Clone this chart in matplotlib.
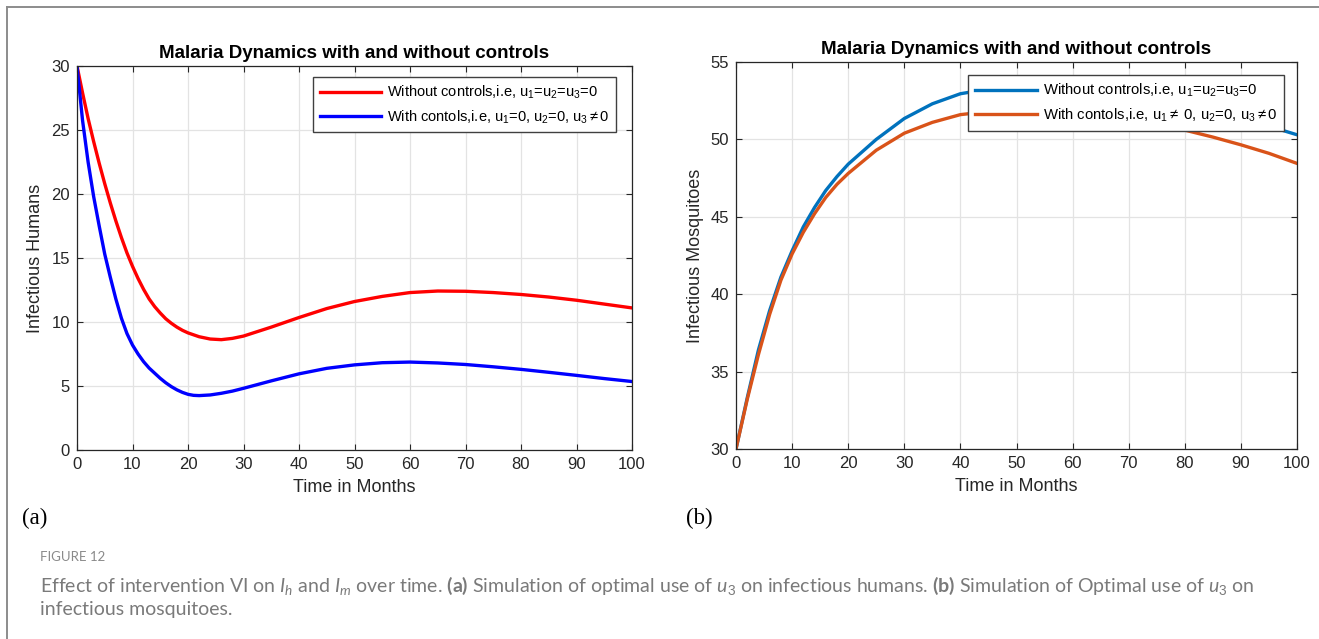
import matplotlib
matplotlib.use('Agg')
import matplotlib.pyplot as plt
from matplotlib.lines import Line2D
import numpy as np

# ---------------- dados ----------------
# (a) humanos infecciosos
t_a = [0, 1, 2, 3, 4, 5, 6, 7, 8, 9, 10, 11, 12, 13, 14, 15, 16, 17, 18, 19, 20,
       21, 22, 24, 26, 28, 30, 35, 40, 45, 50, 55, 60, 65, 70, 75, 80, 85, 90, 95, 100]
ih_sem = [30, 27.9, 25.9, 24.1, 22.4, 20.8, 19.3, 17.9, 16.6, 15.4, 14.35, 13.4, 12.55,
          11.8, 11.2, 10.7, 10.25, 9.9, 9.6, 9.35, 9.15, 9.0, 8.85, 8.67, 8.62, 8.72, 8.9,
          9.6, 10.35, 11.05, 11.6, 12.0, 12.3, 12.42, 12.4, 12.3, 12.15, 11.95, 11.7, 11.4, 11.1]
ih_com = [30, 25.75, 22.5, 19.8, 17.5, 15.3, 13.5, 11.8, 10.3, 9.1, 8.2, 7.5, 6.9, 6.4,
          6.0, 5.6, 5.25, 4.95, 4.7, 4.5, 4.35, 4.27, 4.25, 4.3, 4.43, 4.6, 4.82, 5.4, 5.95,
          6.38, 6.65, 6.82, 6.87, 6.8, 6.68, 6.5, 6.3, 6.07, 5.83, 5.58, 5.35]

# (b) mosquitos infecciosos
t_b = [0, 2, 4, 6, 8, 10, 12, 14, 16, 18, 20, 25, 30, 35, 40, 45, 50, 55, 60, 65, 70,
       75, 80, 85, 90, 95, 100]
im_sem = [30, 33.3, 36.4, 38.95, 41.1, 42.8, 44.35, 45.6, 46.7, 47.6, 48.4, 50.0, 51.35,
          52.3, 52.95, 53.25, 53.35, 53.35, 53.25, 53.1, 52.85, 52.55, 52.2, 51.8, 51.35,
          50.85, 50.3]
im_com = [30, 33.2, 36.1, 38.7, 40.9, 42.6, 44.0, 45.2, 46.25, 47.1, 47.8, 49.3, 50.4,
          51.1, 51.6, 51.8, 51.85, 51.75, 51.55, 51.3, 51.05, 50.8, 50.6, 50.15, 49.65,
          49.1, 48.45]

titulo = 'Malaria Dynamics with and without controls'
eixox = 'Time in Months'
leg_a = ['Without controls,i.e, u$_1$=u$_2$=u$_3$=0',
         r'With contols,i.e, u$_1$=0, u$_2$=0, u$_3$$\neq$0']
leg_b = ['Without controls,i.e, u$_1$=u$_2$=u$_3$=0',
         r'With contols,i.e, u$_1$$\neq$ 0, u$_2$=0, u$_3$$\neq$0']

# ---------------- formatacao geral ----------------
plt.rcParams['font.family'] = ['Liberation Sans', 'DejaVu Sans']
plt.rcParams['mathtext.fontset'] = 'custom'
plt.rcParams['mathtext.rm'] = 'Liberation Sans'
plt.rcParams['mathtext.it'] = 'Lato:italic'
plt.rcParams['mathtext.bf'] = 'Lato:bold'
plt.rcParams['axes.axisbelow'] = True

fig = plt.figure(figsize=(13.19, 6.39), dpi=100)
W, H = 1319.0, 639.0

def eixo(px0, py0, px1, py1):
    return fig.add_axes([px0 / W, 1 - py1 / H, (px1 - px0) / W, (py1 - py0) / H])

def formatar(ax, ymin, ymax, ystep, eixoy):
    ax.set_xlim(0, 100)
    ax.set_ylim(ymin, ymax)
    ax.set_xticks(np.arange(0, 101, 10))
    ax.set_yticks(np.arange(ymin, ymax + 0.01, ystep))
    ax.grid(True, color='#e3e3e3', lw=0.9)
    ax.tick_params(direction='in', top=True, right=True, length=4.5, width=0.8,
                   labelsize=12, colors='#262626', pad=5)
    for s in ax.spines.values():
        s.set_color('#262626')
        s.set_linewidth(0.9)
    ax.set_title(titulo, fontsize=13.5, fontweight='bold', pad=6)
    ax.set_xlabel(eixox, fontsize=13, color='#262626', labelpad=5)
    ax.set_ylabel(eixoy, fontsize=13, color='#262626', labelpad=5)

# ---------------- grafico (a) ----------------
ax1 = eixo(77, 66, 632, 450)
ax1.plot(t_a, ih_sem, color='#ff0000', lw=2.4, label=leg_a[0])
ax1.plot(t_a, ih_com, color='#0000ff', lw=2.4, label=leg_a[1])
formatar(ax1, 0, 30, 5, 'Infectious Humans')
ax1.legend(loc='upper right', bbox_to_anchor=(0.971, 0.971), borderaxespad=0,
           fontsize=10.5, fancybox=False, edgecolor='#404040', framealpha=1,
           handlelength=4.2, handletextpad=0.4, labelspacing=0.5,
           borderpad=0.45)

# ---------------- grafico (b) ----------------
ax2 = eixo(736, 62, 1297, 449)
ax2.plot(t_b, im_sem, color='#0072bd', lw=2.4, label=leg_b[0])
ax2.plot(t_b, im_com, color='#d95319', lw=2.4, label=leg_b[1])
formatar(ax2, 30, 55, 5, 'Infectious Mosquitoes')
ax2.legend(loc='upper right', bbox_to_anchor=(0.977, 0.966), borderaxespad=0,
           fontsize=10.7, fancybox=False, edgecolor='#404040', framealpha=1,
           handlelength=4.2, handletextpad=0.4, labelspacing=0.5,
           borderpad=0.45)

# ---------------- rotulos (a) e (b) ----------------
fig.text(22 / W, 1 - 518 / H, '(a)', family='Liberation Serif', fontsize=16.5, va='center')
fig.text(686 / W, 1 - 518 / H, '(b)', family='Liberation Serif', fontsize=16.5, va='center')

# ---------------- legenda da figura ----------------
fig.text(40 / W, 1 - 557 / H, 'FIGURE 12', family='Lato', fontsize=9.5,
         color='#8a8a8a', va='center')
cap1 = (r'Effect of intervention VI on $I_h$ and $I_m$ over time. $\mathbf{(a)}$ '
        r'Simulation of optimal use of $u_3$ on infectious humans. $\mathbf{(b)}$ '
        r'Simulation of Optimal use of $u_3$ on')
fig.text(40 / W, 1 - 586 / H, cap1, family='Lato', fontsize=14, color='#7a7a7a', va='center')
fig.text(40 / W, 1 - 609 / H, 'infectious mosquitoes.', family='Lato', fontsize=14,
         color='#7a7a7a', va='center')

# ---------------- moldura ----------------
fig.add_artist(Line2D([6.5 / W, 6.5 / W], [0, 1 - 7 / H], color='#8c8c8c', lw=1.4))
fig.add_artist(Line2D([6.5 / W, 1], [1 - 7 / H, 1 - 7 / H], color='#8c8c8c', lw=1.4))

plt.savefig('out.png', dpi=100)
